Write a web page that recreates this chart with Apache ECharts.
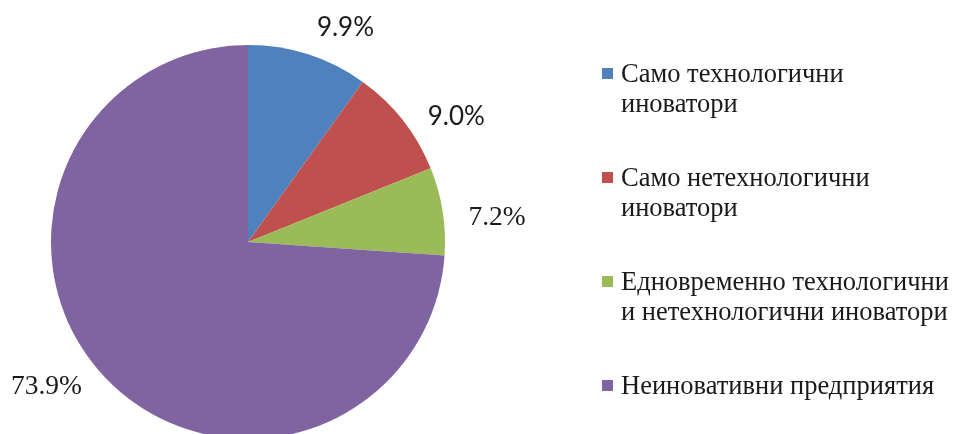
<!DOCTYPE html>
<html><head><meta charset="utf-8">
<script src="https://cdn.jsdelivr.net/npm/echarts@6/dist/echarts.min.js"></script>
<style>html,body{margin:0;padding:0;background:#fff}#c{width:955px;height:434px}</style>
</head><body><div id="c"></div>
<script>
const categories = ['Само технологични\nиноватори', 'Само нетехнологични\nиноватори', 'Едновременно технологични\nи нетехнологични иноватори', 'Неиновативни предприятия'];
const values = [9.9, 9.0, 7.2, 73.9];
const colors = ['#4F81BD', '#C0504D', '#9BBB59', '#8064A2'];
const labelFonts = ['Lato', 'Lato', 'Liberation Serif', 'Liberation Serif'];
const labelSizes = [26, 26, 27.5, 27.5];
const labelShiftX = [-1, 8, 6, -6];
const labelShiftY = [-13, 6, 9, 0];

const icon = 'path://M0,0h0.01v0.01h-0.01z M0,8h11v11h-11z M14,60h0.01v0.01h-0.01z';

const chart = echarts.init(document.getElementById('c'));
chart.setOption({
  animation: false,
  color: colors,
  legend: {
    orient: 'vertical',
    left: 602,
    top: 60,
    padding: 0,
    itemWidth: 14,
    itemHeight: 60,
    itemGap: 44,
    icon: icon,
    data: categories,
    formatter: n => n.indexOf('\n') >= 0 ? n : n + '\n ',
    textStyle: { fontFamily: 'Liberation Serif', fontSize: 26.5, lineHeight: 30, color: '#1a1a1a' },
    selectedMode: false
  },
  series: [{
    type: 'pie',
    center: [248, 242],
    radius: 197,
    startAngle: 90,
    clockwise: true,
    avoidLabelOverlap: false,
    data: categories.map((n, i) => ({
      name: n, value: values[i],
      label: { fontFamily: labelFonts[i], fontSize: labelSizes[i] }
    })),
    label: {
      show: true, position: 'outside',
      formatter: p => p.value.toFixed(1) + '%',
      color: '#1a1a1a', distanceToLabelLine: 5
    },
    labelLine: { show: false, length: 15, length2: 0 },
    labelLayout: p => ({ dx: labelShiftX[p.dataIndex], dy: labelShiftY[p.dataIndex] }),
    itemStyle: { borderWidth: 0 },
    emphasis: { disabled: true }
  }]
});
</script></body></html>
